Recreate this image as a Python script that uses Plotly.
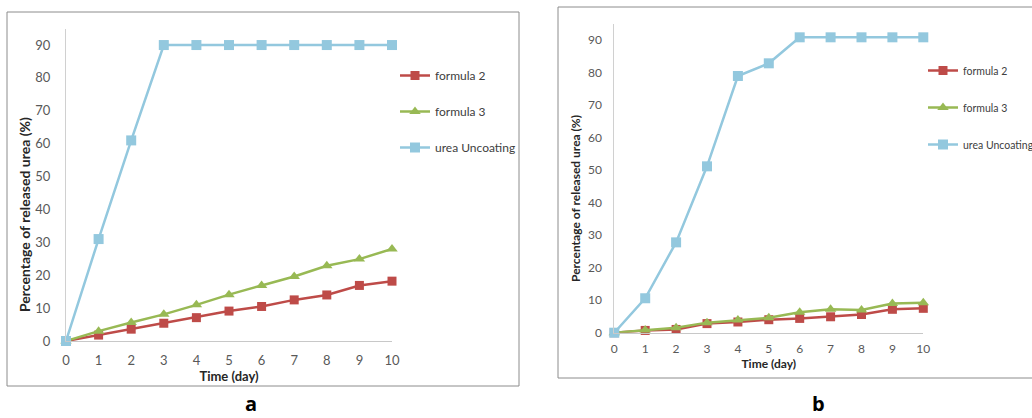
import plotly.graph_objects as go

days = [0, 1, 2, 3, 4, 5, 6, 7, 8, 9, 10]

# Panel a
a_formula2 = [0, 1.8, 3.6, 5.4, 7.1, 9.1, 10.5, 12.5, 14.0, 16.9, 18.2]
a_formula3 = [0, 3.0, 5.6, 8.1, 11.0, 14.1, 16.9, 19.6, 22.9, 24.9, 28.0]
a_urea = [0, 31, 61, 90, 90, 90, 90, 90, 90, 90, 90]

# Panel b
b_formula2 = [0, 0.7, 1.0, 2.8, 3.3, 4.0, 4.4, 4.9, 5.6, 7.2, 7.5]
b_formula3 = [0, 0.8, 1.5, 3.1, 3.9, 4.6, 6.3, 7.2, 7.0, 9.0, 9.2]
b_urea = [0, 10.6, 27.8, 51.2, 79.0, 82.9, 90.9, 90.9, 90.9, 90.9, 90.9]

series_names = ["formula 2", "formula 3", "urea Uncoating"]
x_ticks = [0, 1, 2, 3, 4, 5, 6, 7, 8, 9, 10]
y_ticks = [0, 10, 20, 30, 40, 50, 60, 70, 80, 90]
panel_labels = ["a", "b"]
x_title = "Time (day)"
y_title = "Percentage of released urea (%)"

W, H = 1032, 418
RED = "#BE4B48"
GREEN = "#98B954"
BLUE = "#93C8DE"
FONT = "Lato"


def px(x):
    return x / W


def py(y):
    return 1 - y / H


fig = go.Figure()

styles = [
    dict(color=RED, symbol="square", size=9),
    dict(color=GREEN, symbol="triangle-up", size=10),
    dict(color=BLUE, symbol="square", size=10),
]

panels = [
    ([a_formula2, a_formula3, a_urea], "x", "y", "legend"),
    ([b_formula2, b_formula3, b_urea], "x2", "y2", "legend2"),
]
for data, xa, ya, leg in panels:
    for name, vals, st in zip(series_names, data, styles):
        fig.add_trace(go.Scatter(
            x=days, y=vals, name=name, mode="lines+markers",
            xaxis=xa, yaxis=ya, legend=leg, legendgroup=leg + name,
            line=dict(color=st["color"], width=2.5),
            marker=dict(color=st["color"], symbol=st["symbol"], size=st["size"]),
            cliponaxis=False,
        ))

tickfont_a = dict(family=FONT, size=13, color="#595959")
tickfont_b = dict(family=FONT, size=12, color="#595959")
titlefont_a = dict(family=FONT, size=13, color="#262626", weight="bold")
titlefont_b = dict(family=FONT, size=12, color="#262626", weight="bold")

common_x = dict(range=[0, 10], tickmode="array", tickvals=x_ticks, showgrid=False,
                zeroline=False, showline=True, linecolor="#C8C8C8", linewidth=1,
                ticks="outside", tickcolor="rgba(0,0,0,0)", fixedrange=True,
                automargin=False)
common_y = dict(range=[0, 95], tickmode="array", tickvals=y_ticks, showgrid=False,
                zeroline=False, showline=True, linecolor="#D0D0D0", linewidth=1,
                ticks="outside", tickcolor="rgba(0,0,0,0)", fixedrange=True,
                automargin=False)

fig.update_layout(
    width=W, height=H,
    margin=dict(l=0, r=0, t=0, b=0, autoexpand=False),
    paper_bgcolor="white", plot_bgcolor="white",
    font=dict(family=FONT, color="#404040"),
    xaxis=dict(common_x, domain=[px(66), px(392)], anchor="y", tickfont=tickfont_a,
               ticklen=7,
               title=dict(text=x_title, font=titlefont_a, standoff=0)),
    yaxis=dict(common_y, domain=[py(341), py(28.6)], anchor="x", tickfont=tickfont_a,
               ticklen=12),
    xaxis2=dict(common_x, domain=[px(614.3), px(923.3)], anchor="y2", tickfont=tickfont_b,
                ticklen=5,
                title=dict(text=x_title, font=titlefont_b, standoff=0)),
    yaxis2=dict(common_y, domain=[py(332.7), py(24)], anchor="x2", tickfont=tickfont_b,
                ticklen=9),
    legend=dict(x=px(395), y=py(61), xanchor="left", yanchor="top",
                font=dict(family=FONT, size=12, color="#404040"),
                traceorder="grouped", tracegroupgap=17, bgcolor="rgba(0,0,0,0)"),
    legend2=dict(x=px(923), y=py(56), xanchor="left", yanchor="top",
                 font=dict(family=FONT, size=10.5, color="#404040"),
                 traceorder="grouped", tracegroupgap=18, bgcolor="rgba(0,0,0,0)"),
    showlegend=True,
)

# Y-axis titles (placed like the original, offset from the plot-area centre)
for xc, yc, f in [(25, 215, dict(titlefont_a, size=14)), (575, 199, titlefont_b)]:
    fig.add_annotation(text=y_title, xref="paper", yref="paper", x=px(xc), y=py(yc),
                       textangle=-90, showarrow=False, xanchor="center", yanchor="middle",
                       font=f)

# Panel borders
fig.add_shape(type="rect", xref="paper", yref="paper",
              x0=px(7), x1=px(519), y0=py(386), y1=py(12),
              line=dict(color="#8C8C8C", width=1), layer="below")
fig.add_shape(type="rect", xref="paper", yref="paper",
              x0=px(558), x1=px(1040), y0=py(378), y1=py(7),
              line=dict(color="#8C8C8C", width=1), layer="below")

# Panel labels
for lbl, xc, yc in zip(panel_labels, [251, 818], [403, 403]):
    fig.add_annotation(text=lbl, xref="paper", yref="paper", x=px(xc), y=py(yc),
                       showarrow=False, xanchor="center", yanchor="middle",
                       font=dict(family="Open Sans", size=20, color="black", weight="bold"))

fig.write_html("out.html", config={"displayModeBar": False},
               post_script="document.body.style.margin='0';document.body.style.overflow='hidden';")
